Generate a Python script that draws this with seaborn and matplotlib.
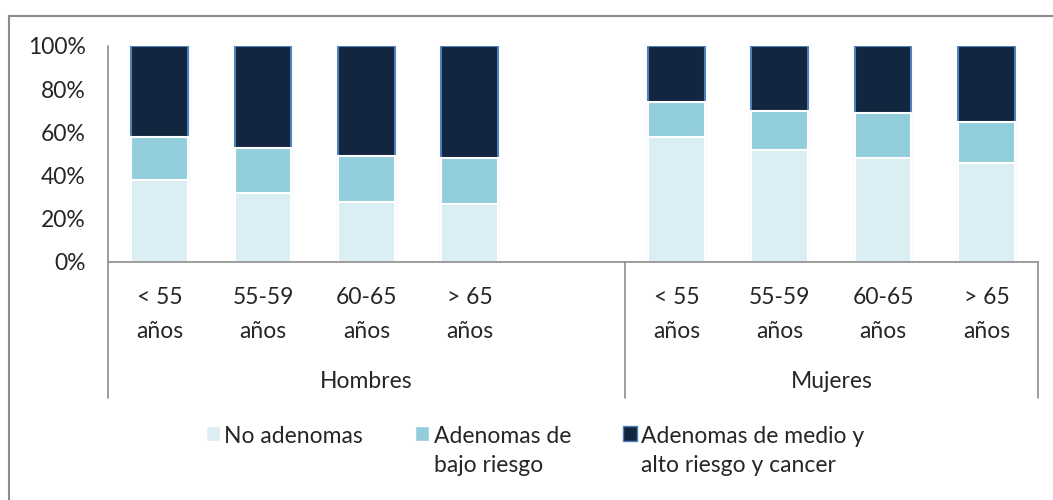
import numpy as np
import pandas as pd
import matplotlib
matplotlib.use("Agg")
import matplotlib.pyplot as plt
from matplotlib.patches import Patch
from matplotlib.lines import Line2D
import seaborn as sns

sns.set_style('white')
plt.rcParams['font.family'] = ['Lato', 'DejaVu Sans']

# data (percent)
groups = ['Hombres', 'Mujeres']
ages = ['< 55\naños', '55-59\naños', '60-65\naños', '> 65\naños']
no_adenomas = {'Hombres': [38, 32, 28, 27], 'Mujeres': [58, 52, 48, 46]}
bajo_riesgo = {'Hombres': [20, 21, 21, 21], 'Mujeres': [16, 18, 21, 19]}
alto_riesgo = {'Hombres': [42, 47, 51, 52], 'Mujeres': [26, 30, 31, 35]}
series_names = ['No adenomas', 'Adenomas de\nbajo riesgo',
                'Adenomas de medio y\nalto riesgo y cancer']
colors = ['#DAEEF3', '#92CDDC', '#12263F']

FS = 16.5

rows = []
for g in groups:
    for i, a in enumerate(ages):
        n, b, h = no_adenomas[g][i], bajo_riesgo[g][i], alto_riesgo[g][i]
        rows.append({'slot': f'{g} {i}', 'c1': n, 'c2': n + b, 'c3': n + b + h})
df = pd.DataFrame(rows)
# empty slot between the two groups
order = [f'Hombres {i}' for i in range(4)] + ['gap'] + [f'Mujeres {i}' for i in range(4)]

fig = plt.figure(figsize=(10.53, 5.0), dpi=100)
ax = fig.add_axes([0.1026, 0.476, 0.8832, 0.432])

# draw cumulative heights back to front
sns.barplot(data=df, x='slot', y='c3', order=order, color=colors[2], saturation=1,
            width=0.55, edgecolor='#4F81BD', linewidth=1.5, ax=ax)
sns.barplot(data=df, x='slot', y='c2', order=order, color=colors[1], saturation=1,
            width=0.55, edgecolor='white', linewidth=1.5, ax=ax)
sns.barplot(data=df, x='slot', y='c1', order=order, color=colors[0], saturation=1,
            width=0.55, edgecolor='white', linewidth=1.5, ax=ax)

ax.set_xlim(-0.5, 8.5)
ax.set_ylim(0, 100)
ax.set_yticks([0, 20, 40, 60, 80, 100])
ax.set_yticklabels([f'{v}%' for v in [0, 20, 40, 60, 80, 100]], fontsize=FS)
ax.set_xticks(range(9))
ax.set_xticklabels(ages + [''] + ages, fontsize=FS, linespacing=1.75)
ax.tick_params(axis='y', length=0, pad=16)
ax.tick_params(axis='x', length=0, pad=18)
ax.set_xlabel('')
ax.set_ylabel('')
for s in ['top', 'right', 'left']:
    ax.spines[s].set_visible(False)
ax.spines['bottom'].set_color('#8C8C8C')
ax.spines['bottom'].set_linewidth(1.2)

# axis line and group dividers
trans = ax.get_xaxis_transform()
for xv in [-0.5, 4.5, 8.5]:
    top = 1.0 if xv == -0.5 else 0.0
    ax.add_line(Line2D([xv, xv], [top, -0.63], transform=trans, color='#8C8C8C',
                       lw=1.2, clip_on=False))
ax.text(2.0, -0.555, groups[0], transform=trans, ha='center', va='center', fontsize=FS)
ax.text(6.5, -0.555, groups[1], transform=trans, ha='center', va='center', fontsize=FS)

handles = [Patch(facecolor=colors[0], edgecolor='white'),
           Patch(facecolor=colors[1], edgecolor='white'),
           Patch(facecolor=colors[2], edgecolor='#4F81BD')]
leg = fig.legend(handles, series_names, loc='upper center', bbox_to_anchor=(0.5083, 0.148),
                 ncol=3, frameon=False, fontsize=FS, handlelength=0.6, handleheight=0.6,
                 handletextpad=0.2, columnspacing=2.27, borderpad=0, borderaxespad=0)
for t in leg.get_texts():
    t.set_linespacing(1.5)
# put each legend square next to the first line of its label
leg._legend_handle_box.align = 'top'
for col in leg._legend_handle_box.get_children():
    col.align = 'top'
    for item in col.get_children():
        item.align = 'top'

# outer chart frame
fig.add_artist(Line2D([9 / 1053, 9 / 1053], [0, 1 - 16 / 500], transform=fig.transFigure,
                      color='#8C8C8C', lw=1.5))
fig.add_artist(Line2D([9 / 1053, 1], [1 - 16 / 500, 1 - 16 / 500], transform=fig.transFigure,
                      color='#8C8C8C', lw=1.5))

fig.savefig('out.png', dpi=100)
